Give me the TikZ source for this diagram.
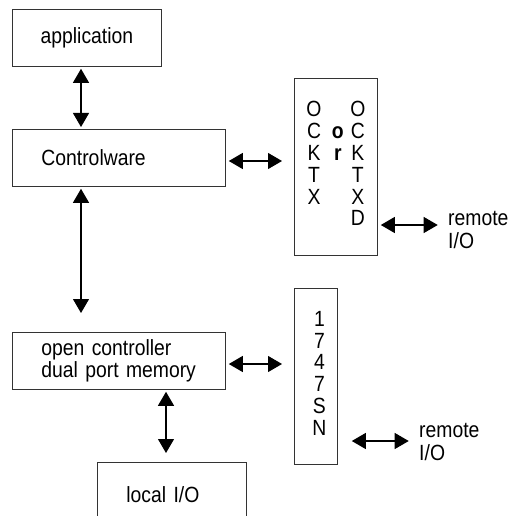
\documentclass[tikz,border=0pt]{standalone}
\usepackage{fontspec}
\setmainfont[FakeStretch=0.88]{Liberation Sans}
\usetikzlibrary{arrows.meta, positioning}
\tikzset{
    block/.style={rectangle, draw=black!80, line width=0.8pt, anchor=north west, align=left, inner xsep=29pt, inner ysep=0pt},
    letters/.style={font=\fontsize{22}{21.8}\selectfont},
    remote/.style={anchor=west, align=left, font=\fontsize{22}{23}\selectfont},
    biarrow/.style={line width=1.1pt, {Triangle[length=14pt,width=16pt]}-{Triangle[length=14pt,width=16pt]}}
}

\begin{document}
\begin{tikzpicture}[x=1pt, y=-1pt, font=\fontsize{22}{22}\selectfont]

    \clip (0,0) rectangle (515,516);

    % Boxes
    \node[block, inner xsep=28pt, minimum width=149pt, minimum height=57pt] (app) at (12,9) {application};
    \node[block, text width=155pt, minimum height=57pt] (ctrl) at (12,129) {Controlware};
    \node[block, text width=155pt, minimum height=57pt] (mem) at (12,332) {open controller\\dual port memory};
    \node[block, text width=91pt, minimum height=64pt] (local) at (97,462) {local I/O};

    % Cards
    \node[block, letters, inner xsep=0pt, minimum width=83pt, minimum height=177pt] (ocktx) at (294,78)
        {\begin{tabular}{@{}c@{\hspace{10.4pt}}c@{\hspace{6.5pt}}c@{}}
         O &              & O\\
         C & \textbf{o}   & C\\
         K & \textbf{r}   & K\\
         T &              & T\\
         X &              & X\\
           &              & D
         \end{tabular}};
    \node[block, letters, inner xsep=0pt, minimum width=43pt, minimum height=176pt] (n1747) at (294,288)
        {\begin{tabular}{@{\hspace{7pt}}c@{}}
         1\\ 7\\ 4\\ 7\\ S\\ N
         \end{tabular}};

    % Remote I/O
    \node[remote] (rem1) at (444.7,230) {remote\\I/O};
    \node[remote] (rem2) at (415.7,441.5) {remote\\I/O};

    % Arrow lines
    \coordinate (lx1) at (81,0);
    \coordinate (lx2) at (166,0);
    \coordinate (ly1) at (0,161);
    \coordinate (ly2) at (0,364);
    \coordinate (ly3) at (0,225);
    \coordinate (ly4) at (0,441);

    % Arrows
    \draw[biarrow, shorten <=2pt, shorten >=2pt] (app.south -| lx1) -- (ctrl.north -| lx1);
    \draw[biarrow, shorten <=2pt, shorten >=19pt] (ctrl.south -| lx1) -- (mem.north -| lx1);
    \draw[biarrow, shorten <=3pt, shorten >=12pt] (ctrl.east |- ly1) -- (ocktx.west |- ly1);
    \draw[biarrow, shorten <=3pt, shorten >=12pt] (mem.east |- ly2) -- (n1747.west |- ly2);
    \draw[biarrow, shorten <=2pt, shorten >=9pt] (mem.south -| lx2) -- (local.north -| lx2);
    \draw[biarrow, shorten <=3pt, shorten >=7pt] (ocktx.east |- ly3) -- (rem1.west |- ly3);
    \draw[biarrow, shorten <=14pt, shorten >=7pt] (n1747.east |- ly4) -- (rem2.west |- ly4);

\end{tikzpicture}
\end{document}
